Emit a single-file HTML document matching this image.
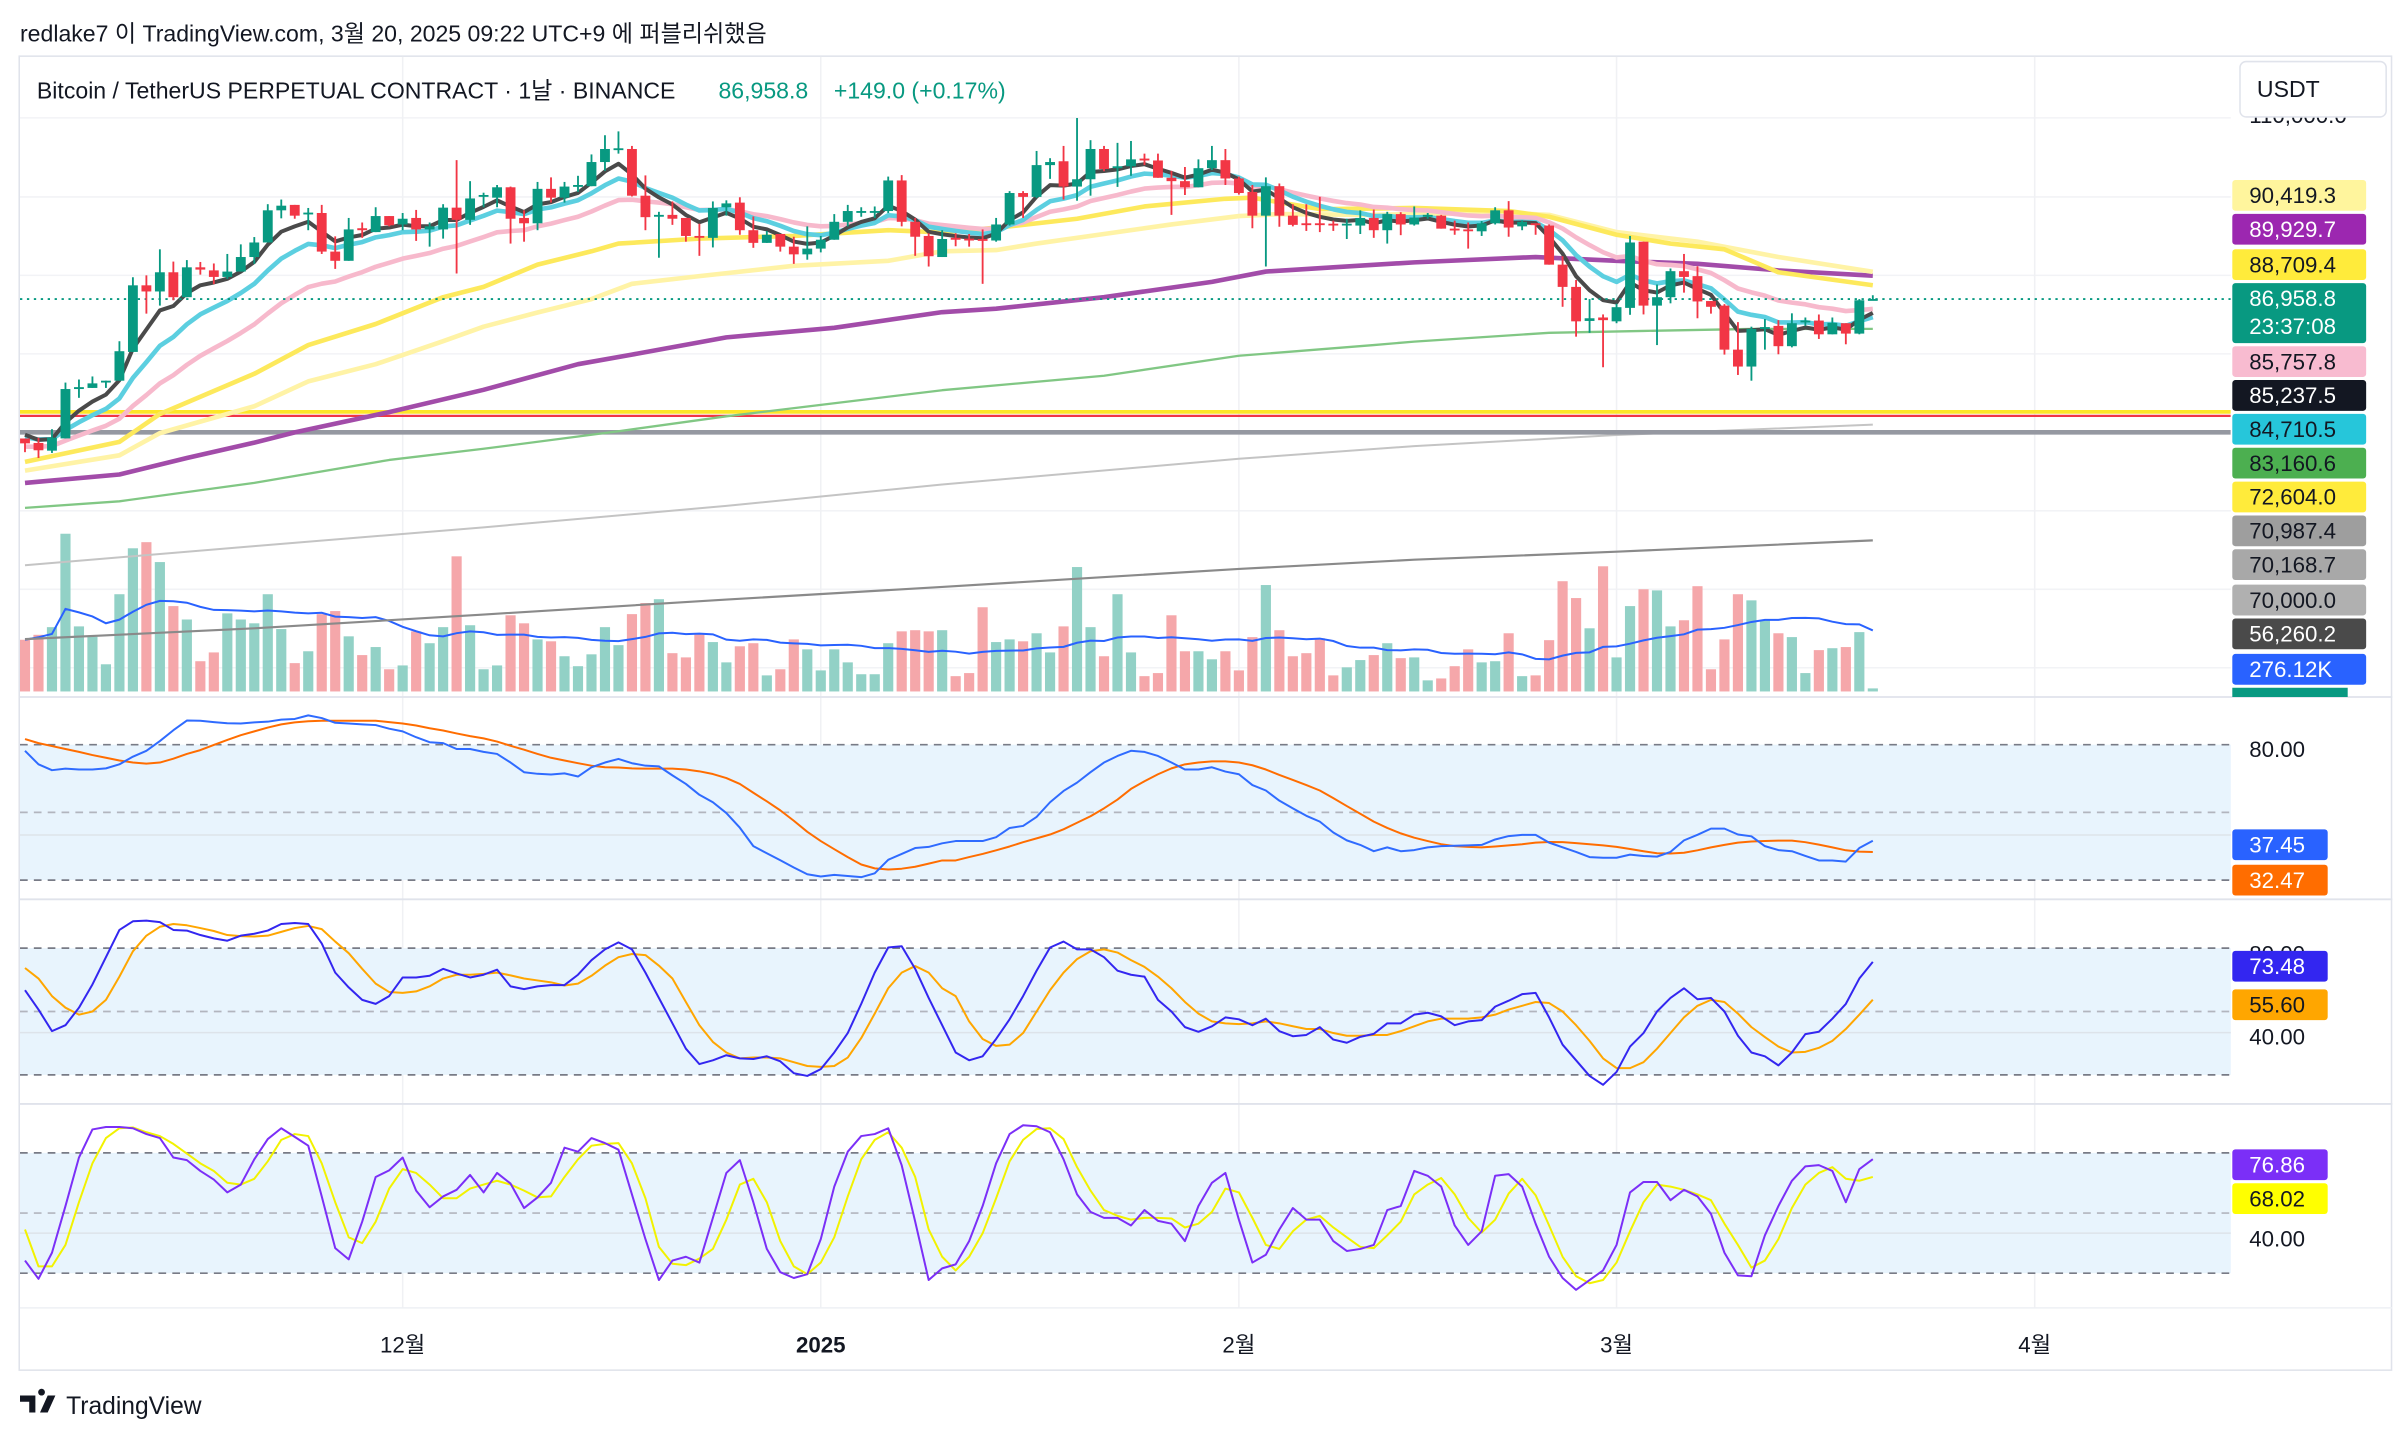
<!DOCTYPE html>
<html><head><meta charset="utf-8"><style>
html,body{margin:0;padding:0;background:#fff;}
svg{display:block;font-family:"Liberation Sans","Noto Sans CJK KR",sans-serif;}
</style></head><body>
<svg id="chart" width="2400" height="1434" viewBox="0 0 1560 932" preserveAspectRatio="none" xmlns="http://www.w3.org/2000/svg">
<defs>
<clipPath id="mainClip"><rect x="13" y="37" width="1437" height="415"/></clipPath>
<clipPath id="oscClip"><rect x="13" y="454" width="1437" height="396"/></clipPath>
</defs>
<rect x="0" y="0" width="1560" height="932" fill="#fff"/>
<text x="13" y="27" font-size="15" fill="#131722">redlake7 이 TradingView.com, 3월 20, 2025 09:22 UTC+9 에 퍼블리쉬했음</text>
<rect x="12.5" y="36.5" width="1542" height="854" fill="none" stroke="#e0e3eb" stroke-width="1"/>
<g id="grid"></g>
<g id="osc-bands"></g>
<g id="volume" clip-path="url(#mainClip)"></g>
<g id="lines" clip-path="url(#mainClip)"></g>
<g id="candles" clip-path="url(#mainClip)"></g>
<g id="osc" clip-path="url(#oscClip)"></g>
<line x1="13" y1="453" x2="1555" y2="453" stroke="#e0e3eb" stroke-width="1.2"/>
<line x1="13" y1="584.5" x2="1555" y2="584.5" stroke="#e0e3eb" stroke-width="1.2"/>
<line x1="13" y1="717.5" x2="1555" y2="717.5" stroke="#e0e3eb" stroke-width="1.2"/>
<line x1="13" y1="850" x2="1555" y2="850" stroke="#eef0f4" stroke-width="1"/>
<text x="24" y="64" font-size="15" fill="#131722">Bitcoin / TetherUS PERPETUAL CONTRACT · 1날 · BINANCE</text>
<text x="467" y="64" font-size="15" fill="#089981">86,958.8</text>
<text x="542" y="64" font-size="15" fill="#089981">+149.0 (+0.17%)</text>
<g id="axis"></g>
<text x="1462" y="80" font-size="14.5" fill="#131722">110,000.0</text>
<rect x="1456" y="40" width="95" height="36" rx="4" fill="#fff" stroke="#e0e3eb"/>
<text x="1467" y="63" font-size="15" fill="#131722">USDT</text>
<g id="timeaxis"></g>
<g>
<path d="M13 907h10v11h-4v-7h-6z M27 907a2.2 2.2 0 1 1 0.01 0z M31 907h5l-5 11h-5z" fill="#131722"/>
<text x="43" y="919" font-size="16" fill="#131722">TradingView</text>
</g>
</svg>
<script>
const opens=[69.22,68.65,67.67,69.23,75.51,75.65,76.48,76.57,80.23,88.70,87.92,90.36,87.19,90.99,90.60,89.77,90.45,92.30,94.15,98.24,98.93,97.76,97.90,92.99,91.82,95.96,95.47,97.51,96.44,97.27,95.81,95.81,98.58,97.03,100.0,99.85,101.17,97.27,96.59,100.97,99.85,101.31,101.31,104.38,106.04,106.04,100.10,97.56,97.66,97.27,94.98,94.74,98.63,99.22,95.71,94.10,95.23,93.62,92.64,93.37,94.50,96.78,98.05,98.05,98.15,102.04,96.78,94.98,92.30,94.74,94.64,94.59,94.40,96.44,100.44,99.95,103.99,104.48,101.26,102.19,106.04,103.60,103.84,104.82,104.58,102.38,101.95,101.17,103.60,104.62,102.29,100.58,97.56,101.31,97.56,96.59,96.59,96.54,96.44,96.30,97.27,95.71,97.76,96.44,97.56,97.56,95.91,95.81,95.57,96.59,98.24,96.20,96.59,96.30,91.33,88.50,84.17,84.61,84.12,85.83,94.25,86.12,87.19,90.50,89.87,86.70,86.12,80.52,78.37,83.15,83.54,80.96,84.02,84.22,82.47,83.88,82.56,86.95];
const highs=[69.22,69.33,70.40,76.33,76.72,77.11,76.57,81.59,89.72,89.97,93.28,91.72,91.91,91.67,91.48,92.69,93.91,94.84,99.02,99.61,98.93,98.54,98.93,94.93,97.27,96.69,98.63,97.51,97.90,98.29,96.69,99.02,104.62,101.95,100.48,101.46,101.26,98.24,101.85,102.43,101.85,102.63,105.35,107.79,108.28,106.43,102.68,98.05,99.37,97.27,96.54,99.37,99.51,99.90,97.46,95.62,95.23,94.88,96.20,94.98,97.76,98.93,98.63,98.73,102.53,102.72,97.27,95.32,95.71,95.32,95.23,95.81,97.27,100.68,100.68,105.79,104.87,106.43,109.98,107.16,106.43,106.82,107.06,105.45,105.45,103.26,103.75,104.72,106.43,106.04,102.53,101.46,102.43,101.65,99.02,99.02,99.95,96.93,97.17,98.24,98.34,98.05,98.00,98.73,97.90,97.66,96.93,96.69,96.88,98.63,99.41,96.98,96.59,96.44,92.40,89.38,86.95,85.00,86.36,94.98,94.25,88.80,90.84,92.69,91.13,86.70,86.31,84.02,83.44,84.41,84.27,85.14,84.61,84.99,84.61,83.88,86.95,87.44];
const lows=[67.48,66.74,67.38,69.23,74.39,75.65,75.65,76.57,80.23,85.10,86.12,86.80,87.19,90.06,88.85,89.53,90.45,91.43,94.15,97.22,97.17,95.71,92.69,90.79,91.82,94.74,95.47,96.20,95.71,94.35,93.62,94.64,90.21,96.39,98.63,98.63,94.01,94.25,95.71,99.22,99.22,100.58,101.31,103.26,105.45,100.0,95.71,92.21,96.39,94.25,92.45,93.52,97.56,95.13,93.47,94.10,92.99,91.43,91.96,92.89,94.50,96.20,97.42,97.27,97.90,96.20,92.45,91.09,92.30,93.67,93.62,88.89,94.25,96.30,97.27,99.80,102.24,99.61,99.46,100.10,103.21,101.22,102.63,103.99,102.38,97.66,100.19,101.17,103.36,101.46,100.24,95.96,91.09,96.15,96.20,95.62,95.47,95.62,94.59,95.23,94.74,94.01,95.08,96.30,97.17,95.91,95.13,93.37,94.98,96.44,94.88,95.71,95.13,91.33,85.97,82.17,82.66,78.28,83.88,84.95,85.00,81.10,86.41,87.77,84.51,85.10,79.89,77.30,76.57,80.52,79.93,80.81,83.54,81.88,82.47,81.20,82.47,86.85];
const closes=[68.60,67.72,69.33,75.51,75.75,76.23,76.57,80.32,88.70,87.92,90.36,87.19,90.99,90.70,89.77,90.45,92.30,94.15,98.24,98.83,97.56,97.95,92.99,91.82,95.81,95.71,97.51,96.34,97.17,95.81,96.20,98.58,97.03,99.75,100.19,101.17,97.17,96.59,100.97,99.85,101.26,101.46,104.38,106.04,106.13,100.10,97.37,97.66,97.17,94.98,94.88,98.54,99.12,95.71,94.10,95.13,93.62,92.64,93.37,94.50,96.78,98.15,98.15,98.15,102.04,96.78,94.88,92.40,94.59,94.50,94.40,94.50,96.44,100.44,99.95,103.99,104.38,101.26,102.19,106.04,103.50,103.84,104.72,104.58,102.38,101.95,101.17,103.60,104.62,102.29,100.44,97.56,101.31,97.56,96.39,96.44,96.44,96.39,96.54,97.27,95.71,97.76,96.44,97.32,97.66,95.91,95.71,95.71,96.59,98.24,96.05,96.78,96.44,91.33,88.50,84.12,84.51,84.27,85.92,94.15,86.12,87.19,90.50,89.77,86.65,85.97,80.52,78.37,83.15,83.39,80.96,83.88,84.22,82.47,83.93,82.56,86.80,86.96];
const volumes=[135,148,168,412,170,143,71,254,374,390,338,223,188,79,102,204,188,178,254,163,74,105,202,210,144,95,116,58,68,157,126,168,353,173,58,68,199,178,136,131,92,66,97,168,121,202,231,241,100,89,152,129,76,118,126,42,58,136,110,55,110,76,45,45,126,157,160,157,160,40,48,220,129,136,131,152,102,170,325,168,92,254,102,40,48,199,105,105,84,105,55,142,278,160,92,100,139,42,63,82,95,126,87,89,29,34,66,110,76,79,152,40,42,134,288,244,165,327,89,223,267,264,170,186,275,58,136,254,238,186,152,142,48,108,113,116,155,8];
const emaSeeds=[69.7,69.4,68.2];
const emaPeriods=[5,10,20];
const maYellowIdx=[0,7,10,17,21,26,31,34,38,42,44,50,57,64,68,73,78,83,89,91,96,103,110,113,118,122,126,130,137];
const maYellowVal=[66.25,68.79,72.34,77.45,81.10,83.78,87.19,88.50,91.33,93.03,94.01,94.64,94.98,95.71,95.42,96.20,97.17,98.73,99.71,99.85,98.39,98.54,98.15,97.42,95.13,94.01,93.28,90.36,88.71];
const maPaleIdx=[0,7,10,17,21,26,31,34,38,42,45,50,57,64,68,72,75,80,85,90,93,100,103,110,113,118,124,130,137];
const maPaleVal=[65.13,67.08,69.90,73.32,76.48,78.67,81.59,83.44,85.24,86.95,88.89,89.87,91.18,91.82,93.03,93.18,94.01,95.23,96.44,97.51,97.76,97.66,97.76,97.90,97.66,95.47,94.25,92.30,90.42];
const maPurpleIdx=[0,7,12,17,20,27,34,41,45,52,60,68,72,80,88,92,97,103,112,118,124,130,137];
const maPurpleVal=[63.57,64.64,66.74,68.69,70.00,72.58,75.41,78.67,79.89,82.08,83.30,85.29,85.73,87.19,89.14,90.45,90.99,91.62,92.30,91.82,91.43,90.60,89.93];
const maGreenIdx=[0,7,17,27,34,44,52,60,68,80,90,100,103,113,120,128,137];
const maGreenVal=[60.40,61.23,63.57,66.49,67.91,70.14,72.04,73.70,75.36,77.20,79.74,81.10,81.54,82.66,82.90,83.15,83.16];
const maLightGrayIdx=[0,17,34,52,68,90,103,118,137];
const maLightGrayVal=[53.10,55.53,57.92,60.65,63.37,66.64,68.25,69.66,70.99];
const maDarkGrayIdx=[0,17,34,52,68,90,103,118,137];
const maDarkGrayVal=[43.70,45.07,46.83,48.73,50.34,52.63,53.80,54.82,56.26];
const levelPrices=[72.604,72.45,70.0];
const lastPrice=86.9588;
const rsi=[77.3,71.3,68.7,69.4,69.0,69.0,69.5,71.3,74.7,77.3,81.6,86.4,90.7,90.6,90.0,89.5,89.4,89.9,90.2,91.1,91.4,93.0,91.8,89.7,89.4,89.0,88.7,87.1,85.9,83.3,81.1,80.7,78.1,78.1,76.8,75.9,72.1,67.8,67.1,66.8,67.3,65.9,70.0,72.1,73.7,71.8,70.7,70.4,66.4,62.6,57.8,54.5,49.7,43.2,35.05,31.9,28.8,25.6,22.6,21.6,22.3,21.8,21.3,23.0,29.0,31.6,34.2,34.7,36.3,
37.3,37.3,37.3,39.0,43.1,44.0,48.0,54.5,59.5,63.2,67.8,72.1,75.0,77.3,76.8,75.0,72.1,69.0,69.0,70.0,68.1,66.9,62.1,59.7,55.2,51.8,48.5,45.9,41.1,37.6,35.6,32.8,34.5,32.8,33.3,34.5,35.05,35.2,35.4,35.6,38.0,39.5,40.05,40.05,36.6,34.5,32.5,30.2,29.9,29.9,31.3,30.7,30.4,32.5,37.6,40.05,42.8,42.8,40.2,39.4,35.05,33.3,32.8,30.7,28.7,28.7,28.2,34.2,37.45];
const rsiMa=[82.5,80.7,79.4,78.1,76.8,75.4,74.2,73.0,72.1,71.6,72.1,73.8,75.9,77.6,79.9,82.1,84.2,85.9,87.6,89.0,89.9,90.4,90.6,90.6,90.6,90.6,90.6,90.0,89.4,88.5,87.3,86.3,85.0,83.8,82.8,81.4,79.5,77.8,75.9,74.2,73.0,71.8,70.7,70.0,69.9,69.5,69.4,69.4,69.4,69.0,68.2,67.0,65.2,62.6,58.7,54.9,50.9,46.3,41.4,37.3,33.7,30.2,26.9,25.2,24.7,25.05,25.9,27.3,28.7,
28.7,30.2,31.6,33.2,34.9,36.8,38.5,40.2,42.5,45.4,48.3,51.8,55.7,60.4,63.8,66.9,69.5,71.3,72.1,72.6,72.6,72.1,70.9,69.0,66.6,64.4,62.1,59.7,56.3,52.8,49.4,45.9,43.1,40.7,38.8,37.3,35.9,35.05,34.7,34.5,34.9,35.4,35.9,36.6,36.9,36.8,36.4,35.9,35.4,34.7,33.8,32.8,31.9,31.8,32.1,33.2,34.5,35.6,36.6,37.1,37.3,37.5,37.5,36.8,35.7,34.5,33.2,32.6,32.47];
const stochK=[60.1,50.9,40.7,43.5,51.8,62.8,75.7,88.6,92.7,93.0,92.3,88.6,88.3,86.2,84.6,83.5,85.9,86.8,88.3,91.4,91.9,91.4,82.2,68.4,61.4,55.5,53.6,57.3,66.1,66.1,66.9,70.2,68.0,66.1,67.4,69.8,61.9,60.6,61.9,62.5,62.5,67.4,74.3,79.4,82.7,79.4,68.4,56.4,44.4,32.4,25.1,26.9,29.3,27.8,27.5,28.8,26.4,20.8,19.5,22.7,30.6,39.8,53.6,68.4,80.3,80.9,70.2,56.4,43.5,
30.6,26.9,28.8,37.0,46.3,57.3,69.3,80.3,83.1,79.4,79.4,75.7,69.3,67.4,66.5,55.5,50.0,42.6,40.4,43.0,47.2,46.3,43.5,46.6,40.7,38.3,38.9,42.6,36.7,35.2,38.0,39.4,44.4,44.4,48.5,49.4,47.7,43.5,45.3,45.9,52.3,55.1,58.2,58.8,47.2,34.3,26.9,19.5,15.3,21.4,33.4,39.8,50.0,56.4,61.0,55.8,56.4,50.0,38.5,30.6,28.8,24.5,30.6,39.3,40.4,46.6,53.6,65.6,73.48];
const stochD=[70.6,65.6,57.3,51.8,48.5,50.0,55.5,66.5,78.5,85.9,90.1,91.4,90.8,89.5,88.1,86.2,85.7,85.5,85.9,87.7,89.5,90.5,89.0,83.1,77.6,70.2,63.2,59.2,58.8,59.5,61.9,65.6,67.4,67.4,67.8,68.4,67.1,65.6,64.7,63.8,62.3,63.2,66.9,71.7,75.7,77.2,76.7,71.7,65.6,54.5,43.5,35.6,30.6,27.8,28.2,28.2,27.8,26.0,24.2,23.8,24.2,28.2,37.4,49.0,61.0,68.4,71.5,68.4,61.0,
57.3,45.3,37.0,33.7,34.3,39.8,50.0,60.1,68.4,74.8,78.5,79.4,77.9,74.3,71.1,66.5,61.0,54.5,49.0,45.3,44.4,44.0,44.4,45.3,44.4,43.0,41.7,41.7,39.8,38.5,38.5,38.9,38.9,40.7,43.0,45.3,46.6,46.6,46.6,47.2,48.5,50.9,52.7,54.5,54.0,50.0,43.5,36.1,27.8,23.2,23.2,26.0,32.4,39.8,47.2,52.7,55.5,54.5,49.0,42.6,37.9,33.4,30.6,30.9,32.8,36.1,41.7,48.5,55.6];
const srsiK=[26.3,17.2,30.2,53.5,77.7,91.7,92.9,92.9,92.3,89.4,87.4,77.7,76.4,71.0,66.7,60.3,64.2,76.8,86.9,92.3,88.0,83.6,58.3,32.5,26.9,45.7,68.0,71.3,77.7,61.2,52.9,58.3,61.6,69.0,60.3,70.0,64.7,52.5,57.8,65.1,82.6,80.6,87.4,84.9,81.6,59.3,37.0,16.6,26.3,28.2,25.3,47.6,70.0,76.4,55.4,32.1,20.5,17.6,19.5,37.0,63.2,80.6,88.4,89.4,92.3,73.8,45.7,16.6,22.4,
24.4,36.0,53.5,74.8,89.4,93.8,93.3,90.3,76.8,59.3,50.6,47.6,47.6,43.8,51.5,46.1,44.7,36.0,53.5,65.1,70.0,46.7,25.3,29.2,41.8,52.5,46.7,46.7,36.0,31.1,32.1,34.1,51.5,53.5,71.0,68.6,63.2,43.8,34.1,40.9,68.6,69.4,63.2,44.7,28.2,17.6,11.7,16.6,21.4,34.1,60.3,65.5,65.5,56.4,61.6,58.3,49.6,30.2,18.9,18.5,38.9,53.5,66.1,73.3,73.9,71.0,55.4,71.9,76.86];
const srsiD=[41.8,23.4,23.4,34.1,55.4,74.8,87.4,92.3,92.7,90.3,88.4,84.5,79.7,74.8,71.0,65.1,64.2,67.1,75.8,86.5,89.4,88.4,74.8,55.4,37.9,35.0,45.7,62.2,71.9,70.0,64.2,57.4,57.4,62.2,64.2,66.1,64.2,61.2,57.8,58.3,68.0,76.8,83.6,84.5,84.9,74.8,57.4,33.1,24.7,24.0,27.3,32.1,46.7,64.2,67.1,55.4,36.0,23.4,19.5,25.3,37.9,58.3,76.8,86.5,90.3,82.6,68.0,41.8,28.2,
21.4,28.2,39.9,57.4,75.8,86.5,91.9,92.3,86.9,72.9,61.2,51.5,48.6,46.7,47.6,47.6,47.3,42.8,44.7,50.6,62.2,60.3,47.6,34.1,32.1,40.9,46.7,48.6,42.8,37.9,33.1,32.5,38.9,45.7,59.3,64.2,67.5,59.3,47.6,40.3,46.7,59.7,67.1,58.9,43.8,28.2,18.5,15.0,16.6,25.3,40.9,55.4,64.2,63.2,61.6,59.3,56.4,44.7,34.1,22.8,26.3,37.0,52.5,64.2,70.0,72.9,67.1,66.1,68.02];
const monthLabels=["12월","2025","2월","3월","4월"];
const monthIdx=[28,59,90,118,149];
const axisLabels=["90,419.3","89,929.7","88,709.4","86,958.8","85,757.8","85,237.5","84,710.5","83,160.6","72,604.0","70,987.4","70,168.7","70,000.0","56,260.2","276.12K"];

const NS="http://www.w3.org/2000/svg";
function mk(tag,attrs,parent){const e=document.createElementNS(NS,tag);for(const k in attrs)e.setAttribute(k,attrs[k]);parent.appendChild(e);return e;}
function xI(i){return 16.25+8.767*i;}
function yP(p){return 281-(p-70)*5.11;}
function yVol(v){return 449.4-v*0.2488;}
function yRsi(v){return 528-(v-50)*1.4667;}
function ySt(v){return 657.4-(v-50)*1.373;}
function ySr(v){return 788.4-(v-50)*1.303;}
function pts(vals,yf){return vals.map((v,i)=>xI(i).toFixed(2)+","+yf(v).toFixed(2)).join(" ");}
function ptsIdx(idx,vals,yf){return idx.map((ix,k)=>xI(ix).toFixed(2)+","+yf(vals[k]).toFixed(2)).join(" ");}

const grid=document.getElementById('grid');
[76.6,128,179,230,332,383,434].forEach(y=>{
  const l=mk('line',{x1:13,y1:y,x2:1450,y2:y,stroke:'#f2f3f6','stroke-width':1},grid);
  
  
});
monthIdx.forEach(ix=>{
  const l=mk('line',{x1:xI(ix),y1:37,x2:xI(ix),y2:850,stroke:'#f0f1f4','stroke-width':1},grid);
  
  
});

const bands=document.getElementById('osc-bands');
[[yRsi,'rsi'],[ySt,'stoch'],[ySr,'stochrsi']].forEach(([yf,nm])=>{
  const r=mk('rect',{x:13,y:yf(80),width:1437,height:yf(20)-yf(80),fill:'#e8f4fd'},bands);
  
  
  const g40=mk('line',{x1:13,y1:yf(40),x2:1450,y2:yf(40),stroke:'#dde3ea','stroke-width':1},bands);
  
  
  [[80,'#787b86'],[50,'#b2b5be'],[20,'#787b86']].forEach(([lv,c])=>{
    const d=mk('line',{x1:13,y1:yf(lv),x2:1450,y2:yf(lv),stroke:c,'stroke-width':1.1,'stroke-dasharray':'5,4'},bands);
    
    
  });
});

const vg=document.getElementById('volume');
volumes.forEach((v,i)=>{
  const up=closes[i]>=opens[i];
  const r=mk('rect',{x:xI(i)-3.3,y:yVol(v),width:6.6,height:449.4-yVol(v),fill:up?'#92d1c6':'#f5a7aa'},vg);
  
  
});
const vma=volumes.map((v,i)=>{const s=volumes.slice(Math.max(0,i-19),i+1);return s.reduce((a,b)=>a+b,0)/s.length;});
const vmaLine=mk('polyline',{points:pts(vma,yVol),fill:'none',stroke:'#2962ff','stroke-width':1.3},vg);



const lg=document.getElementById('lines');
function addIdxLine(idx,vals,color,w,name){
  const p=mk('polyline',{points:ptsIdx(idx,vals,yP),fill:'none',stroke:color,'stroke-width':w,'stroke-linejoin':'round'},lg);
  
  
}
addIdxLine(maDarkGrayIdx,maDarkGrayVal,'#8a8a8a',1.4,'ma-dark-gray');
addIdxLine(maLightGrayIdx,maLightGrayVal,'#c4c4c4',1.3,'ma-light-gray');
const lvColors=['#fde628','#f23645','#9598a1'];
const lvW=[2.4,1.4,3];
levelPrices.forEach((p,k)=>{
  const l=mk('line',{x1:13,y1:yP(p)+(k===1?1.8:0),x2:1450,y2:yP(p)+(k===1?1.8:0),stroke:lvColors[k],'stroke-width':lvW[k]},lg);
  
  
});
addIdxLine(maGreenIdx,maGreenVal,'#81c784',1.5,'ma-green');
addIdxLine(maPurpleIdx,maPurpleVal,'#a24ca9',3,'ma-purple');
addIdxLine(maPaleIdx,maPaleVal,'#fff3a6',3,'ma-pale-yellow');
addIdxLine(maYellowIdx,maYellowVal,'#fde95c',3,'ma-yellow');
const emaColors=['#4a4a4a','#5ccfe0','#f7b9cc'];
const emaW=[2.6,3,3];
const emaNames=['ema-black','ema-cyan','ema-pink'];
for(let k=2;k>=0;k--){
  const a=2/(emaPeriods[k]+1);let e=emaSeeds[k];const arr=[];
  closes.forEach((c,i)=>{if(i>0)e=e+a*(c-e);arr.push(e);});
  const p=mk('polyline',{points:pts(arr,yP),fill:'none',stroke:emaColors[k],'stroke-width':emaW[k],'stroke-linejoin':'round'},lg);
  
  
}
const lastLine=mk('line',{x1:13,y1:yP(lastPrice),x2:1450,y2:yP(lastPrice),stroke:'#089981','stroke-width':1.2,'stroke-dasharray':'1.5,3'},lg);



const cg=document.getElementById('candles');
opens.forEach((o,i)=>{
  const c=closes[i],up=c>=o,col=up?'#089981':'#f23645',x=xI(i);
  const g=mk('g',{},cg);
  
  
  mk('line',{x1:x,y1:yP(highs[i]),x2:x,y2:yP(lows[i]),stroke:col,'stroke-width':1.2},g);
  const top=Math.min(yP(o),yP(c)),h=Math.max(1.2,Math.abs(yP(o)-yP(c)));
  mk('rect',{x:x-3.2,y:top,width:6.4,height:h,fill:col},g);
});

const og=document.getElementById('osc');
function oscLine(vals,yf,color,w,name){
  const p=mk('polyline',{points:pts(vals,yf),fill:'none',stroke:color,'stroke-width':w,'stroke-linejoin':'round'},og);
  
  
}
oscLine(rsiMa,yRsi,'#ff6d00',1.3,'rsi-ma-line');
oscLine(rsi,yRsi,'#2f6bff',1.3,'rsi-line');
oscLine(stochD,ySt,'#ffa600',1.3,'stoch-d-line');
oscLine(stochK,ySt,'#3326f0',1.3,'stoch-k-line');
oscLine(srsiD,ySr,'#f2f200',1.3,'stochrsi-d-line');
oscLine(srsiK,ySr,'#7b2ff7',1.3,'stochrsi-k-line');

const ax=document.getElementById('axis');
const labY=[127,149,172,194,235,257,279,301,323,345,367,390,412,435];
const labBg=['#fff59d','#9c27b0','#ffeb3b','#089981','#f8bbd0','#131722','#26c6da','#4caf50','#ffeb3b','#9e9e9e','#a8a8a8','#b0b0b0','#4a4a4a','#2962ff'];
const labFg=['#131722','#fff','#131722','#fff','#131722','#fff','#131722','#131722','#131722','#131722','#131722','#131722','#fff','#fff'];
axisLabels.forEach((t,k)=>{
  const h=(k===3)?39:20;
  const r=mk('rect',{x:1451,y:labY[k]-10,width:87,height:h,rx:2,fill:labBg[k]},ax);
  
  
  const tx=mk('text',{x:1462,y:labY[k]+5,'font-size':14.5,fill:labFg[k]},ax);
  tx.textContent=t;
  
  
});
const cd=mk('text',{x:1462,y:217,'font-size':14.5,fill:'#fff'},ax);
cd.textContent='23:37:08';


const part=mk('rect',{x:1451,y:447,width:75,height:6,fill:'#089981'},ax);


const oscLabs=[["80.00",487,null,'#131722'],["80.00",620,null,'#131722'],["40.00",674,null,'#131722'],["40.00",805,null,'#131722'],
["37.45",549,'#2962ff','#fff'],["32.47",572,'#ff6d00','#fff'],["73.48",628,'#3326f0','#fff'],["55.60",653,'#ffa600','#131722'],["76.86",757,'#7b2ff7','#fff'],["68.02",779,'#ffff00','#131722']];
oscLabs.forEach(([t,y,bg,fg])=>{
  if(bg){const r=mk('rect',{x:1451,y:y-10,width:62,height:20,rx:2,fill:bg},ax);
    
    }
  const tx=mk('text',{x:1462,y:y+5,'font-size':14.5,fill:fg},ax);
  tx.textContent=t;
  
  
});

const ta=document.getElementById('timeaxis');
monthLabels.forEach((t,k)=>{
  const tx=mk('text',{x:xI(monthIdx[k]),y:879,'font-size':14.5,'text-anchor':'middle',fill:'#131722','font-weight':t==='2025'?'bold':'normal'},ta);
  tx.textContent=t;
  
  
});
</script>
</body></html>
